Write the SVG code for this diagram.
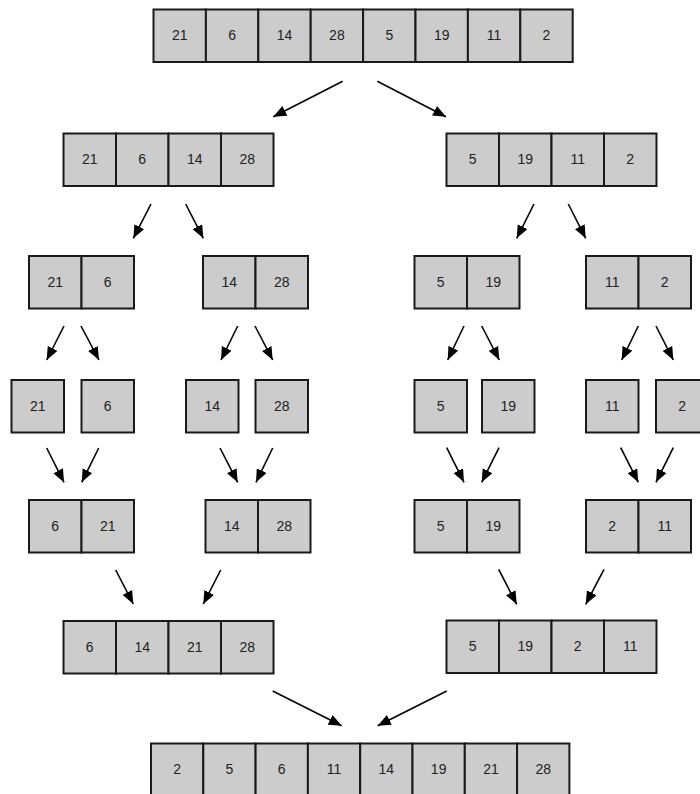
<svg xmlns="http://www.w3.org/2000/svg" width="700" height="794" viewBox="0 0 700 794">
<style>
.c{fill:#cccccc;stroke:#1a1a1a;stroke-width:2}
.t{font-family:"Liberation Sans",Arial,sans-serif;font-size:14px;fill:#222;text-anchor:middle}
.a{stroke:#000;stroke-width:1.6;fill:none;marker-end:url(#ah)}
</style>
<defs>
<marker id="ah" viewBox="0 0 12 10" refX="12" refY="5" markerWidth="13" markerHeight="11" markerUnits="userSpaceOnUse" orient="auto">
<path d="M0,0 L12,5 L0,10 z" fill="#000"/>
</marker>
</defs>
<rect width="700" height="794" fill="#fff"/>

<g id="top">
<rect class="c" x="153.5" y="9.5" width="52.4" height="52.5"/><text class="t" x="179.7" y="40">21</text>
<rect class="c" x="205.9" y="9.5" width="52.4" height="52.5"/><text class="t" x="232.1" y="40">6</text>
<rect class="c" x="258.3" y="9.5" width="52.4" height="52.5"/><text class="t" x="284.5" y="40">14</text>
<rect class="c" x="310.7" y="9.5" width="52.4" height="52.5"/><text class="t" x="336.9" y="40">28</text>
<rect class="c" x="363.1" y="9.5" width="52.4" height="52.5"/><text class="t" x="389.3" y="40">5</text>
<rect class="c" x="415.5" y="9.5" width="52.4" height="52.5"/><text class="t" x="441.7" y="40">19</text>
<rect class="c" x="467.9" y="9.5" width="52.4" height="52.5"/><text class="t" x="494.1" y="40">11</text>
<rect class="c" x="520.3" y="9.5" width="52.4" height="52.5"/><text class="t" x="546.5" y="40">2</text>
</g>

<g id="l2-left">
<rect class="c" x="63.5" y="133.5" width="52.5" height="52.5"/><text class="t" x="89.75" y="164">21</text>
<rect class="c" x="116" y="133.5" width="52.5" height="52.5"/><text class="t" x="142.25" y="164">6</text>
<rect class="c" x="168.5" y="133.5" width="52.5" height="52.5"/><text class="t" x="194.75" y="164">14</text>
<rect class="c" x="221" y="133.5" width="52.5" height="52.5"/><text class="t" x="247.25" y="164">28</text>
</g>
<g id="l2-right">
<rect class="c" x="446.5" y="133.5" width="52.5" height="52.5"/><text class="t" x="472.75" y="164">5</text>
<rect class="c" x="499" y="133.5" width="52.5" height="52.5"/><text class="t" x="525.25" y="164">19</text>
<rect class="c" x="551.5" y="133.5" width="52.5" height="52.5"/><text class="t" x="577.75" y="164">11</text>
<rect class="c" x="604" y="133.5" width="52.5" height="52.5"/><text class="t" x="630.25" y="164">2</text>
</g>

<g id="l3-a">
<rect class="c" x="29" y="256" width="52.5" height="52.5"/><text class="t" x="55.25" y="286.5">21</text>
<rect class="c" x="81.5" y="256" width="52.5" height="52.5"/><text class="t" x="107.75" y="286.5">6</text>
</g>
<g id="l3-b">
<rect class="c" x="203" y="256" width="52.5" height="52.5"/><text class="t" x="229.25" y="286.5">14</text>
<rect class="c" x="255.5" y="256" width="52.5" height="52.5"/><text class="t" x="281.75" y="286.5">28</text>
</g>
<g id="l3-c">
<rect class="c" x="414.5" y="256" width="52.5" height="52.5"/><text class="t" x="440.75" y="286.5">5</text>
<rect class="c" x="467" y="256" width="52.5" height="52.5"/><text class="t" x="493.25" y="286.5">19</text>
</g>
<g id="l3-d">
<rect class="c" x="586" y="256" width="52.5" height="52.5"/><text class="t" x="612.25" y="286.5">11</text>
<rect class="c" x="638.5" y="256" width="52.5" height="52.5"/><text class="t" x="664.75" y="286.5">2</text>
</g>

<g id="l4-21"><rect class="c" x="11.5" y="380" width="52.5" height="52.5"/><text class="t" x="37.75" y="410.5">21</text></g>
<g id="l4-6"><rect class="c" x="81.5" y="380" width="52.5" height="52.5"/><text class="t" x="107.75" y="410.5">6</text></g>
<g id="l4-14"><rect class="c" x="186" y="380" width="52.5" height="52.5"/><text class="t" x="212.25" y="410.5">14</text></g>
<g id="l4-28"><rect class="c" x="255.5" y="380" width="52.5" height="52.5"/><text class="t" x="281.75" y="410.5">28</text></g>
<g id="l4-5"><rect class="c" x="414.5" y="380" width="52.5" height="52.5"/><text class="t" x="440.75" y="410.5">5</text></g>
<g id="l4-19"><rect class="c" x="482" y="380" width="52.5" height="52.5"/><text class="t" x="508.25" y="410.5">19</text></g>
<g id="l4-11"><rect class="c" x="586" y="380" width="52.5" height="52.5"/><text class="t" x="612.25" y="410.5">11</text></g>
<g id="l4-2"><rect class="c" x="656" y="380" width="52.5" height="52.5"/><text class="t" x="682.25" y="410.5">2</text></g>

<g id="l5-a">
<rect class="c" x="29" y="500" width="52.5" height="52.5"/><text class="t" x="55.25" y="530.5">6</text>
<rect class="c" x="81.5" y="500" width="52.5" height="52.5"/><text class="t" x="107.75" y="530.5">21</text>
</g>
<g id="l5-b">
<rect class="c" x="205.5" y="500" width="52.5" height="52.5"/><text class="t" x="231.75" y="530.5">14</text>
<rect class="c" x="258" y="500" width="52.5" height="52.5"/><text class="t" x="284.25" y="530.5">28</text>
</g>
<g id="l5-c">
<rect class="c" x="414.5" y="500" width="52.5" height="52.5"/><text class="t" x="440.75" y="530.5">5</text>
<rect class="c" x="467" y="500" width="52.5" height="52.5"/><text class="t" x="493.25" y="530.5">19</text>
</g>
<g id="l5-d">
<rect class="c" x="586" y="500" width="52.5" height="52.5"/><text class="t" x="612.25" y="530.5">2</text>
<rect class="c" x="638.5" y="500" width="52.5" height="52.5"/><text class="t" x="664.75" y="530.5">11</text>
</g>

<g id="l6-left">
<rect class="c" x="63.5" y="621" width="52.5" height="52.5"/><text class="t" x="89.75" y="651.5">6</text>
<rect class="c" x="116" y="621" width="52.5" height="52.5"/><text class="t" x="142.25" y="651.5">14</text>
<rect class="c" x="168.5" y="621" width="52.5" height="52.5"/><text class="t" x="194.75" y="651.5">21</text>
<rect class="c" x="221" y="621" width="52.5" height="52.5"/><text class="t" x="247.25" y="651.5">28</text>
</g>
<g id="l6-right">
<rect class="c" x="446.5" y="620.5" width="52.5" height="52.5"/><text class="t" x="472.75" y="651">5</text>
<rect class="c" x="499" y="620.5" width="52.5" height="52.5"/><text class="t" x="525.25" y="651">19</text>
<rect class="c" x="551.5" y="620.5" width="52.5" height="52.5"/><text class="t" x="577.75" y="651">2</text>
<rect class="c" x="604" y="620.5" width="52.5" height="52.5"/><text class="t" x="630.25" y="651">11</text>
</g>

<g id="bottom">
<rect class="c" x="151" y="743.5" width="52.3" height="52.5"/><text class="t" x="177.15" y="774">2</text>
<rect class="c" x="203.3" y="743.5" width="52.3" height="52.5"/><text class="t" x="229.45" y="774">5</text>
<rect class="c" x="255.6" y="743.5" width="52.3" height="52.5"/><text class="t" x="281.75" y="774">6</text>
<rect class="c" x="307.9" y="743.5" width="52.3" height="52.5"/><text class="t" x="334.05" y="774">11</text>
<rect class="c" x="360.2" y="743.5" width="52.3" height="52.5"/><text class="t" x="386.35" y="774">14</text>
<rect class="c" x="412.5" y="743.5" width="52.3" height="52.5"/><text class="t" x="438.65" y="774">19</text>
<rect class="c" x="464.8" y="743.5" width="52.3" height="52.5"/><text class="t" x="490.95" y="774">21</text>
<rect class="c" x="517.1" y="743.5" width="52.3" height="52.5"/><text class="t" x="543.25" y="774">28</text>
</g>

<g id="connectors">
<line class="a" x1="342.7" y1="81.3" x2="273.3" y2="116.7"/>
<line class="a" x1="377.3" y1="81.3" x2="446" y2="116.7"/>
<line class="a" x1="151" y1="204" x2="133.3" y2="238.3"/>
<line class="a" x1="185.7" y1="204" x2="203.3" y2="238.3"/>
<line class="a" x1="534" y1="204" x2="516.7" y2="238.3"/>
<line class="a" x1="568.3" y1="204" x2="585.7" y2="238.3"/>
<line class="a" x1="64" y1="326" x2="46.7" y2="360"/>
<line class="a" x1="81" y1="326" x2="99" y2="360"/>
<line class="a" x1="237.7" y1="326" x2="221" y2="360"/>
<line class="a" x1="255" y1="326" x2="272.7" y2="360"/>
<line class="a" x1="464" y1="326" x2="447.7" y2="360"/>
<line class="a" x1="481.7" y1="326" x2="499.3" y2="360"/>
<line class="a" x1="638.3" y1="326" x2="621.7" y2="360"/>
<line class="a" x1="656" y1="326" x2="673.3" y2="360"/>
<line class="a" x1="46.7" y1="448" x2="64" y2="482.3"/>
<line class="a" x1="98.7" y1="448" x2="81.7" y2="482.3"/>
<line class="a" x1="220" y1="448" x2="237.7" y2="482.3"/>
<line class="a" x1="272.7" y1="448" x2="256" y2="482.3"/>
<line class="a" x1="446.7" y1="447.7" x2="464" y2="482.3"/>
<line class="a" x1="499" y1="447.7" x2="481.7" y2="482.3"/>
<line class="a" x1="620.7" y1="447.7" x2="638.3" y2="482.3"/>
<line class="a" x1="673.3" y1="447.7" x2="656" y2="482.3"/>
<line class="a" x1="115.7" y1="570" x2="133.3" y2="604"/>
<line class="a" x1="220.7" y1="570" x2="203.3" y2="604"/>
<line class="a" x1="498.7" y1="569.3" x2="516.7" y2="604.3"/>
<line class="a" x1="604" y1="569.3" x2="585.7" y2="604.3"/>
<line class="a" x1="272.7" y1="691" x2="341.7" y2="725.7"/>
<line class="a" x1="446.7" y1="691" x2="377.7" y2="725.7"/>
</g>
</svg>
